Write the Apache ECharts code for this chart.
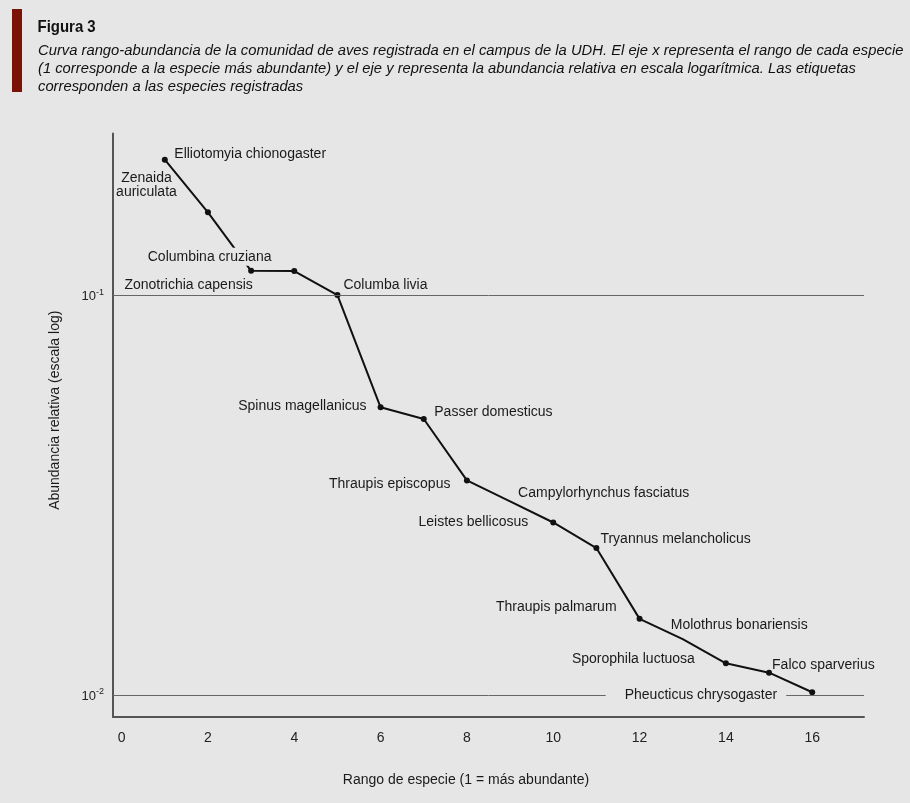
<!DOCTYPE html>
<html>
<head>
<meta charset="utf-8">
<script src="https://cdn.jsdelivr.net/npm/echarts@6/dist/echarts.min.js"></script>
<style>
  html, body { margin: 0; padding: 0; background: #e6e6e6; }
  #chart { width: 910px; height: 803px; }
</style>
</head>
<body>
<div id="chart"></div>
<script>
// ---- data ----
const ranks = [1, 2, 3, 4, 5, 6, 7, 8, 9, 10, 11, 12, 13, 14, 15, 16];
const abundance = [0.218, 0.161, 0.115, 0.1148, 0.100, 0.0524, 0.0490, 0.0344,
                   0.0305, 0.0270, 0.0233, 0.0155, 0.0138, 0.0120, 0.01137, 0.01016];
const species = [
  'Elliotomyia chionogaster', 'Zenaida\nauriculata', 'Columbina cruziana',
  'Zonotrichia capensis', 'Columba livia', 'Spinus magellanicus',
  'Passer domesticus', 'Thraupis episcopus', 'Campylorhynchus fasciatus',
  'Leistes bellicosus', 'Tryannus melancholicus', 'Thraupis palmarum',
  'Molothrus bonariensis', 'Sporophila luctuosa', 'Falco sparverius',
  'Pheucticus chrysogaster'
];
const xTickLabels = [0, 2, 4, 6, 8, 10, 12, 14, 16];
const yGridValues = [0.1, 0.01];

const titleText = 'Figura 3';
const captionText = 'Curva rango-abundancia de la comunidad de aves registrada en el campus de la UDH. El eje x representa el rango de cada especie\n(1 corresponde a la especie más abundante) y el eje y representa la abundancia relativa en escala logarítmica. Las etiquetas\ncorresponden a las especies registradas';
const xName = 'Rango de especie (1 = más abundante)';
const yName = 'Abundancia relativa (escala log)';

// ---- styling (label placement relative to each point, in px) ----
const BG = '#e6e6e6';
const DY = 1.5;
const labelPlacement = [
  { dx: 10, dy: -7, align: 'left' },
  { dx: -61, dy: -28, align: 'center' },
  { dx: -41, dy: -15, align: 'center', cover: [1, 3, 3, 3] },
  { dx: -41, dy: 13, align: 'right' },
  { dx: 6.5, dy: -11, align: 'left' },
  { dx: -13.5, dy: -2, align: 'right' },
  { dx: 11, dy: -8, align: 'left' },
  { dx: -16, dy: 3, align: 'right' },
  { dx: 8.5, dy: -9, align: 'left' },
  { dx: -24.5, dy: -1, align: 'right' },
  { dx: 4.5, dy: -10, align: 'left' },
  { dx: -22.5, dy: -13, align: 'right' },
  { dx: -11.5, dy: -15, align: 'left' },
  { dx: -30.5, dy: -5.5, align: 'right' },
  { dx: 3.5, dy: -8.5, align: 'left' },
  { dx: -25.5, dy: 1.7, align: 'right', cover: [2, 9, 2, 19] }
];
const noMarker = [9, 13];

const points = ranks.map((r, i) => [r, abundance[i]]);

const labelData = points.map((p, i) => {
  const lp = labelPlacement[i];
  const label = {
    show: true,
    position: [lp.dx, lp.dy + DY],
    align: lp.align,
    verticalAlign: 'middle',
    lineHeight: 14
  };
  if (lp.cover) {
    label.backgroundColor = BG;
    label.padding = lp.cover;
  }
  return { value: p, label: label };
});

const chart = echarts.init(document.getElementById('chart'), null, { renderer: 'canvas' });

const option = {
  backgroundColor: BG,
  animation: false,
  textStyle: { fontFamily: 'Liberation Sans, Arial, sans-serif' },
  graphic: [
    { type: 'rect', left: 12, top: 9, shape: { width: 10, height: 83 }, style: { fill: '#7a1206' } },
    { type: 'text', x: 37.5, y: 18.5, scaleX: 0.88,
      style: { text: titleText, font: 'bold 17px "Liberation Sans", Arial', fill: '#111', verticalAlign: 'top' } },
    { type: 'text', x: 38, y: 41.5, scaleX: 0.953,
      style: { text: captionText, font: 'italic 15.5px "Liberation Sans", Arial', fill: '#111', lineHeight: 18 } }
  ],
  grid: { left: 113, right: 46, top: 133.5, bottom: 86, containLabel: false },
  xAxis: {
    type: 'value',
    min: -0.2,
    max: 17.2,
    name: xName,
    nameLocation: 'middle',
    nameGap: 56,
    nameTextStyle: { fontSize: 14, color: '#1a1a1a', padding: [0, 45, 0, 0] },
    axisLine: { show: true, onZero: false, lineStyle: { color: '#555', width: 2 } },
    axisTick: { show: false },
    splitLine: { show: false },
    axisLabel: { customValues: xTickLabels, fontSize: 14, color: '#222', margin: 14 }
  },
  yAxis: {
    type: 'log',
    logBase: 10,
    min: 0.00881,
    max: 0.2535,
    name: yName,
    nameLocation: 'middle',
    nameGap: 51,
    nameTextStyle: { fontSize: 14, color: '#1a1a1a', padding: [0, 0, 0, 30] },
    axisLine: { show: true, onZero: false, lineStyle: { color: '#555', width: 2 } },
    axisTick: { show: false },
    splitLine: { show: false },
    axisLabel: {
      margin: 9,
      formatter: function (v) {
        const e = Math.log10(v);
        if (Math.abs(e - Math.round(e)) > 1e-6) return '';
        return '{b|10}{s|' + Math.round(e) + '}';
      },
      rich: {
        b: { fontSize: 13, color: '#222', lineHeight: 15, verticalAlign: 'bottom' },
        s: { fontSize: 9, color: '#222', lineHeight: 15, verticalAlign: 'top', padding: [0, 0, 4, 0] }
      }
    }
  },
  series: [
    {
      type: 'line',
      data: points,
      z: 2,
      symbol: 'circle',
      symbolSize: function (val, params) {
        return noMarker.indexOf(params.dataIndex + 1) >= 0 ? 0 : 6;
      },
      itemStyle: { color: '#111', opacity: 1 },
      lineStyle: { color: '#111', width: 2 },
      markLine: {
        silent: true,
        symbol: 'none',
        label: { show: false },
        lineStyle: { color: '#666', width: 1, type: 'solid' },
        data: yGridValues.map(v => ({ yAxis: v }))
      }
    },
    {
      type: 'scatter',
      data: labelData,
      z: 5,
      symbolSize: 1,
      silent: true,
      itemStyle: { color: 'rgba(0,0,0,0)', opacity: 1 },
      label: {
        show: true,
        formatter: function (p) { return species[p.dataIndex]; },
        fontSize: 14,
        color: '#1a1a1a',
        textBorderWidth: 0
      }
    }
  ]
};

chart.setOption(option);
</script>
</body>
</html>
